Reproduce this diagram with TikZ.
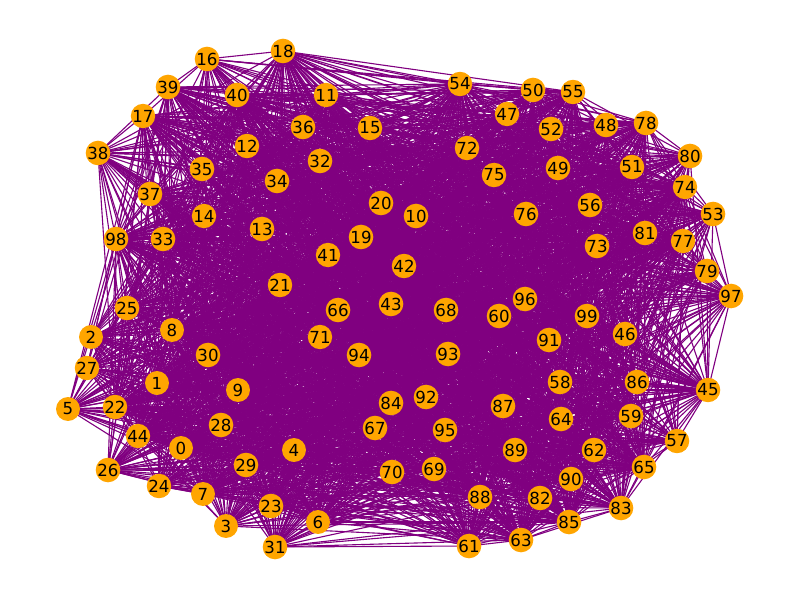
\documentclass[tikz,border=0pt]{standalone}
\usepackage{fontspec}
\setmainfont{DejaVu Sans}
\usetikzlibrary{backgrounds}
\definecolor{mplorange}{HTML}{FFA500}
\definecolor{mplpurple}{HTML}{800080}
\newcount\ecnt
\newcount\qcnt
\begin{document}
\begin{tikzpicture}[x=0.01in,y=-0.01in,
  vtx/.style={circle,fill=mplorange,minimum size=17.3pt,inner sep=0pt,font=\fontsize{12}{14}\selectfont},
  edge/.style={draw=mplpurple,line width=0.8pt}]
\useasboundingbox (0,0) rectangle (800,600);
\foreach \n/\x/\y in {
16/207/59,18/283/51,39/168/87,40/237/95,11/326/95,54/460/84,50/533/90,55/573/92,
47/507/114,48/606/125,78/646/123,52/551/129,17/143/116,36/303/127,15/370/128,72/467/148,
80/690/156,38/98/153,12/247/146,32/320/161,35/202/169,34/277/181,75/494/175,49/558/168,
51/632/167,74/685/187,37/150/194,20/381/203,10/416/216,76/526/214,56/590/205,53/713/214,
14/204/216,13/262/229,98/116/239,33/163/239,19/361/237,41/328/255,42/404/266,73/597/246,
81/645/233,77/683/241,79/707/271,21/280/285,97/731/296,25/127/308,8/172/330,66/338/310,
43/391/304,68/446/310,60/499/316,96/525/299,99/587/316,2/91/337,71/320/337,91/549/340,
46/625/334,30/208/355,94/359/355,93/448/354,27/87/368,1/157/383,9/238/390,58/560/382,
86/637/382,45/708/390,5/68/409,22/115/407,84/391/403,92/426/397,87/503/406,64/561/419,
59/631/416,44/138/436,28/221/425,67/375/428,95/445/430,57/677/441,0/181/448,4/294/450,
89/515/450,62/594/450,26/108/470,29/246/465,70/392/472,69/434/469,90/571/479,65/644/467,
24/159/486,7/203/494,88/480/497,82/540/498,23/271/506,83/621/508,3/226/526,6/318/522,
85/569/522,31/275/547,61/469/546,63/521/540}
  \node[vtx] (n\n) at (\x,\y) {\n};
\begin{scope}[on background layer]
\foreach \i in {0,...,98} {
  \pgfmathtruncatemacro\jstart{\i+1}
  \foreach \j in {\jstart,...,99} {
    \ecnt=\numexpr \i*\j*17+\i*31+\j*53+(\i+\j)*(\i+\j)\relax
    \qcnt=\ecnt \divide\qcnt by 11 \multiply\qcnt by 11 \advance\ecnt by -\qcnt
    \ifnum\ecnt<6 \draw[edge] (n\i.center) -- (n\j.center); \fi
  }
}
\end{scope}
\end{tikzpicture}
\end{document}
